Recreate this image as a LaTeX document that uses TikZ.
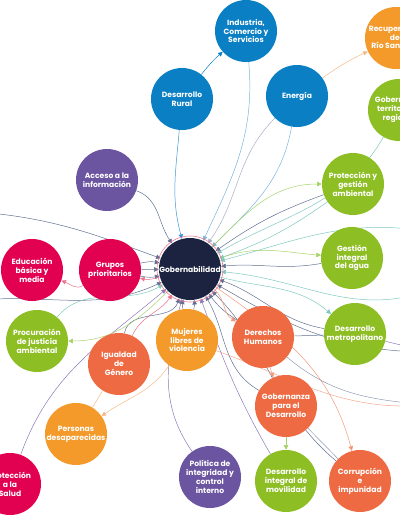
\documentclass[tikz,border=0pt]{standalone}
\usepackage{fontspec}
\setmainfont{Poppins}
\usetikzlibrary{arrows.meta,backgrounds}

\definecolor{ejeazul}{RGB}{10,127,196}
\definecolor{ejeverde}{RGB}{141,190,35}
\definecolor{ejenaranja}{RGB}{243,154,43}
\definecolor{ejerojo}{RGB}{237,106,67}
\definecolor{ejemagenta}{RGB}{226,0,80}
\definecolor{ejemorado}{RGB}{107,84,160}
\definecolor{ejemarino}{RGB}{27,35,64}
\definecolor{lazogris}{RGB}{95,110,145}
\definecolor{lazoazul}{RGB}{120,180,220}
\definecolor{lazoturq}{RGB}{125,200,190}
\definecolor{lazorosa}{RGB}{235,115,140}
\definecolor{lazonaranja}{RGB}{245,185,135}
\definecolor{lazomorado}{RGB}{140,120,185}
\definecolor{lazoverde}{RGB}{165,210,105}

\tikzset{
    tema/.style={circle, minimum size=1.55cm, inner sep=0pt, text=white,
        align=center, font=\bfseries\fontsize{5.4}{6.3}\selectfont},
    lazo/.style={line width=0.35pt, -{Triangle[length=3.2pt,width=3.2pt]}},
    linea/.style={line width=0.35pt},
}

\begin{document}
\begin{tikzpicture}[x=0.025cm, y=-0.025cm]
    \useasboundingbox (0,0) rectangle (400,516);
    \clip (0,0) rectangle (400,516);

    % ejes
    \node[tema, fill=ejemarino] (gob) at (190,269) {Gobernabilidad};
    \node[tema, fill=ejeazul] (industria) at (246,31) {Industria,\\Comercio y\\Servicios};
    \node[tema, fill=ejeazul] (rural) at (182,99) {Desarrollo\\Rural};
    \node[tema, fill=ejeazul] (energia) at (297,96) {Energía};
    \node[tema, fill=ejenaranja] (recuperacion) at (396,38) {Recuperación\\del\\Río Santiago};
    \node[tema, fill=ejeverde] (territorial) at (399,110) {Gobernanza\\territorial y\\regional};
    \node[tema, fill=ejemorado] (acceso) at (107,180) {Acceso a la\\información};
    \node[tema, fill=ejeverde] (proteccion) at (353,184) {Protección y\\gestión\\ambiental};
    \node[tema, fill=ejemagenta] (educacion) at (32,270) {Educación\\básica y\\media};
    \node[tema, fill=ejemagenta] (grupos) at (110,270) {Grupos\\prioritarios};
    \node[tema, fill=ejeverde] (agua) at (352,258) {Gestión\\integral\\del agua};
    \node[tema, fill=ejeverde] (metro) at (355,334) {Desarrollo\\metropolitano};
    \node[tema, fill=ejeverde] (procuracion) at (37,341) {Procuración\\de justicia\\ambiental};
    \node[tema, fill=ejenaranja] (mujeres) at (187,340) {Mujeres\\libres de\\violencia};
    \node[tema, fill=ejerojo] (derechos) at (263,337) {Derechos\\Humanos};
    \node[tema, fill=ejerojo] (igualdad) at (119,364) {Igualdad\\de\\Género};
    \node[tema, fill=ejerojo] (gobdes) at (286,406) {Gobernanza\\para el\\Desarrollo};
    \node[tema, fill=ejenaranja] (personas) at (76,434) {Personas\\desaparecidas};
    \node[tema, fill=ejemagenta] (salud) at (10,484) {Protección\\a la\\Salud};
    \node[tema, fill=ejemorado] (politica) at (210,477) {Política de\\integridad y\\control\\interno};
    \node[tema, fill=ejeverde] (movilidad) at (286,481) {Desarrollo\\integral de\\movilidad};
    \node[tema, fill=ejerojo] (corrupcion) at (360,481) {Corrupción\\e\\impunidad};

    % ejes fuera del cuadro
    \coordinate (izqA) at (-20,212);
    \coordinate (izqB) at (-20,300);
    \coordinate (derA) at (430,232);
    \coordinate (derB) at (430,290);
    \coordinate (derC) at (430,352);
    \coordinate (derD) at (430,405);

    \draw[lazorosa, line width=0.4pt] (gob) circle[radius=33];

    \begin{scope}[on background layer]
        % hacia Gobernabilidad
        \draw[lazo, lazoazul] (industria) to[out=-85, in=65] (gob);
        \draw[lazo, ejeazul!80] (rural) to[out=-95, in=105] (gob);
        \draw[lazo, lazoazul] (energia) to[out=-100, in=45] (gob);
        \draw[lazo, lazogris!55] (energia) to[out=225, in=55] (gob);
        \draw[lazo, lazoturq] (territorial) to[out=240, in=30] (gob);
        \draw[lazo, lazoturq] (proteccion) to[out=215, in=20] (gob);
        \draw[lazo, lazogris] (proteccion) to[out=200, in=35] (gob);
        \draw[lazo, lazogris] (acceso) to[out=-20, in=125] (gob);
        \draw[lazo, lazogris] (izqA) to[out=-5, in=160] (gob);
        \draw[lazo, lazogris] (izqB) to[out=5, in=205] (gob);
        \draw[lazo, lazogris] (grupos) to[bend left=12] (gob);
        \draw[lazo, lazogris] (grupos) to (gob);
        \draw[lazo, lazogris] (grupos) to[bend right=12] (gob);
        \draw[lazo, lazoturq] (procuracion) to[out=50, in=210] (gob);
        \draw[lazo, lazomorado] (salud) to[out=70, in=220] (gob);
        \draw[lazo, lazorosa] (igualdad) to[out=65, in=235] (gob);
        \draw[lazo, lazogris] (igualdad) to[out=80, in=250] (gob);
        \draw[lazo, lazomorado] (politica) to[out=125, in=255] (gob);
        \draw[lazo, lazogris] (mujeres) to[bend left=10] (gob);
        \draw[lazo, lazogris] (mujeres) to[bend right=10] (gob);
        \draw[lazo, lazogris] (derechos) to[bend left=10] (gob);
        \draw[lazo, lazogris] (gobdes) to[out=150, in=-60] (gob);
        \draw[lazo, lazogris] (metro) to[out=170, in=-20] (gob);
        \draw[lazo, lazogris] (agua) to[out=190, in=5] (gob);
        \draw[lazo, lazogris] (corrupcion) to[out=140, in=-45] (gob);
        \draw[lazo, lazomorado] (movilidad) to[out=120, in=-70] (gob);
        \draw[lazo, lazoturq] (derA) to[out=170, in=15] (gob);
        \draw[lazo, lazoturq] (derB) to[out=200, in=-5] (gob);
        \draw[lazo, lazogris] (derC) to[out=180, in=-30] (gob);

        % desde Gobernabilidad
        \draw[lazo, lazoverde] (gob) to[out=45, in=180] (proteccion);
        \draw[lazo, lazoverde] (gob) to[out=20, in=175] (agua);
        \draw[lazo, lazoturq] (gob) to[out=-15, in=140] (metro);
        \draw[lazo, lazorosa] (gob) to[out=195, in=-15] (grupos);
        \draw[lazo, lazoverde] (gob) to[out=225, in=0] (procuracion);
        \draw[lazo, ejerojo!70] (gob) to[out=-40, in=150] (derechos);
        \draw[lazo, ejerojo!70] (gob) to[out=-35, in=105] (corrupcion);

        % entre ejes
        \draw[lazo, ejeazul] (rural) to[bend left=5] (industria);
        \draw[lazo, lazonaranja] (energia) to[bend left=5] (recuperacion);
        \draw[lazo, lazorosa] (grupos) to[out=210, in=-20] (educacion);
        \draw[linea, lazonaranja] (igualdad) -- (personas);
        \draw[lazo, lazonaranja] (mujeres) to[out=235, in=35] (personas);
        \draw[lazo, ejerojo!70] (derechos) to[bend right=5] (gobdes);
        \draw[lazo, lazoverde] (gobdes) -- (movilidad);
        \draw[linea, lazogris!70] (gobdes) -- (corrupcion);
        \draw[linea, lazogris] (derechos) -- (metro);
        \draw[linea, lazomorado] (metro) -- (derC);
        \draw[linea, ejerojo!60] (mujeres) to[out=-20, in=185] (derD);
        \draw[linea, lazogris!70] (derechos) to[out=-40, in=175] (derD);
    \end{scope}
\end{tikzpicture}
\end{document}
